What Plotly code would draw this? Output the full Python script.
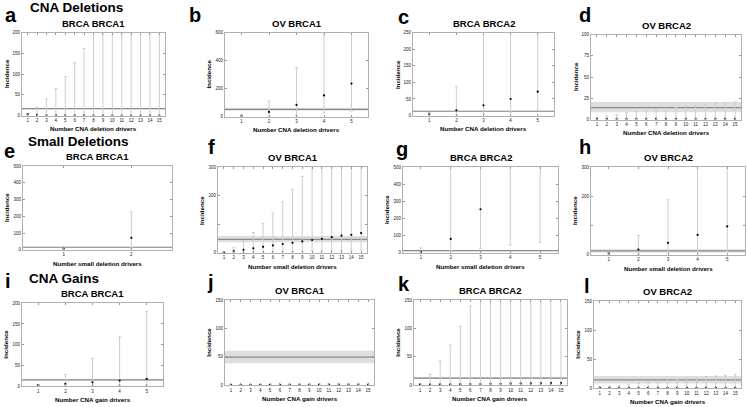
import plotly.graph_objects as go

W, H = 747, 407

# ---------------- data ----------------
x15 = list(range(1, 16))
x5 = [1, 2, 3, 4, 5]
x2 = [1, 2]

# a  CNA deletions, BRCA BRCA1
a_pt = [3, 1.5, 0.8, 0.5, 0.4, 0.3, 0.3, 0.2, 0.2, 0.2, 0.2, 0.1, 0.1, 0.1, 0.1]
a_lo = [0] * 15
a_hi = [5, 20, 40, 65, 94, 127, 162, 205, 250, 300, 350, 400, 450, 500, 560]
a_ref = [17, 15.5, 18.5]
# b  CNA deletions, OV BRCA1
b_pt = [5, 33, 83, 151, 236]
b_lo = [0, 3, 10, 25, 40]
b_hi = [12, 111, 350, 800, 1200]
b_ref = [52, 42, 62]
# c  CNA deletions, BRCA BRCA2
c_pt = [4, 16, 31, 50, 72]
c_lo = [0, 2, 5, 10, 15]
c_hi = [9, 87, 300, 400, 500]
c_ref = [13, 11.5, 14.5]
# d  CNA deletions, OV BRCA2
d_pt = [0.8] * 15
d_lo = [0] * 15
d_hi = [2, 4.3, 5.8, 7.8, 9.3, 10.5, 11.7, 13.2, 14.4, 16, 16.7, 17.9, 19, 19.8, 20.6]
d_ref = [14, 8.5, 20.5]
# e  small deletions, BRCA BRCA1
e_pt = [8, 72]
e_lo = [2, 10]
e_hi = [13, 227]
e_ref = [16, 13, 19]
# f  small deletions, OV BRCA1
f_pt = [1, 6, 11, 16, 21, 26, 31, 35, 40, 45, 49, 55, 60, 63, 69]
f_lo = [0, 1, 2, 3, 4, 5, 5, 6, 6, 7, 7, 7, 8, 8, 10]
f_hi = [3, 18, 41, 71, 102, 139, 178, 222, 267, 320, 360, 400, 440, 480, 520]
f_ref = [47, 37, 59]
# g  small deletions, BRCA BRCA2
g_pt = [6, 81, 254, 700, 900]
g_lo = [0, 13, 27, 46, 62]
g_hi = [29, 800, 1000, 1200, 1400]
g_ref = [13, 10, 16]
# h  small deletions, OV BRCA2
h_pt = [4.5, 18, 41, 68, 97]
h_lo = [0, 2, 7, 9, 11]
h_hi = [8, 66, 188, 400, 500]
h_ref = [13.5, 8, 19]
# i  CNA gains, BRCA BRCA1
i_pt = [2.4, 5.5, 9.5, 13.5, 17.5]
i_lo = [0, 0.5, 1, 2, 3]
i_hi = [4, 28, 67, 119, 180]
i_ref = [15.5, 13.5, 17.5]
# j  CNA gains, OV BRCA1
j_pt = [0.5] * 15
j_lo = [0] * 15
j_hi = [0.8, 1, 1.2, 1.4, 1.6, 1.8, 2, 2.2, 2.4, 2.6, 2.8, 3, 3.2, 3.4, 3.6]
j_ref = [49.5, 39, 61]
# k  CNA gains, BRCA BRCA2
k_pt = [1, 1.2, 1.4, 1.6, 1.8, 2, 2.2, 2.4, 2.6, 2.8, 3, 3.2, 3.4, 3.6, 3.8]
k_lo = [0] * 15
k_hi = [3, 19, 43, 71, 104, 140, 180, 220, 260, 300, 340, 380, 420, 460, 500]
k_ref = [12.7, 11, 14.5]
# l  CNA gains, OV BRCA2
l_pt = [0.8] * 15
l_lo = [0] * 15
l_hi = [2, 3.4, 5, 7, 8.6, 10.3, 12, 13.7, 15.5, 17, 18.3, 20, 21, 22.3, 23.5]
l_ref = [14.3, 8, 21]

titles = ["BRCA BRCA1", "OV BRCA1", "BRCA BRCA2", "OV BRCA2"] * 3
xlabels = (["Number CNA deletion drivers"] * 4 + ["Number small deletion drivers"] * 4
           + ["Number CNA gain drivers"] * 4)
letters = list("abcdefghijkl")
sections = ["CNA Deletions", "Small Deletions", "CNA Gains"]

yt200 = [0, 50, 100, 150, 200]
yt600 = [0, 200, 400, 600]
yt250 = [0, 50, 100, 150, 200, 250]
yt100 = [0, 25, 50, 75, 100]
yt500 = [0, 100, 200, 300, 400, 500]
yt300 = [0, 100, 200, 300]
yt300_txt = ["0", "", "200", "300"]
yt150 = [0, 50, 100, 150]

# ---------------- layout helpers ----------------
FONT = "Liberation Sans, Arial, Helvetica, sans-serif"

panels = [
    dict(x=x15, pt=a_pt, lo=a_lo, hi=a_hi, ref=a_ref, yt=yt200, box=(22, 165, 31, 115)),
    dict(x=x5, pt=b_pt, lo=b_lo, hi=b_hi, ref=b_ref, yt=yt600, box=(225, 368, 31, 116)),
    dict(x=x5, pt=c_pt, lo=c_lo, hi=c_hi, ref=c_ref, yt=yt250, box=(413, 554, 31, 115)),
    dict(x=x15, pt=d_pt, lo=d_lo, hi=d_hi, ref=d_ref, yt=yt100, box=(591, 741, 33, 119)),
    dict(x=x2, pt=e_pt, lo=e_lo, hi=e_hi, ref=e_ref, yt=yt500, box=(23, 172, 166, 251)),
    dict(x=x15, pt=f_pt, lo=f_lo, hi=f_hi, ref=f_ref, yt=yt300, ytt=yt300_txt, box=(218, 367, 167, 254)),
    dict(x=x5, pt=g_pt, lo=g_lo, hi=g_hi, ref=g_ref, yt=yt500, box=(403, 558, 167, 254)),
    dict(x=x5, pt=h_pt, lo=h_lo, hi=h_hi, ref=h_ref, yt=yt300, ytt=yt300_txt, box=(591, 745, 167, 256)),
    dict(x=x5, pt=i_pt, lo=i_lo, hi=i_hi, ref=i_ref, yt=yt200, box=(22, 163, 305, 389)),
    dict(x=x15, pt=j_pt, lo=j_lo, hi=j_hi, ref=j_ref, yt=yt150, box=(225, 374, 302, 388)),
    dict(x=x15, pt=k_pt, lo=k_lo, hi=k_hi, ref=k_ref, yt=yt150, box=(414, 567, 302, 388)),
    dict(x=x15, pt=l_pt, lo=l_lo, hi=l_hi, ref=l_ref, yt=yt150, box=(594, 741, 303, 391)),
]

letter_pos = [(3, 0), (187, 0), (396, 2), (577, 0),
              (2, 138), (206, 134), (394, 136), (577, 134),
              (3, 269), (205, 270), (396, 272), (582, 274)]
section_pos = [(28, -4), (26, 132), (27, 270)]

fig = go.Figure()
shapes = []
annotations = []
layout_axes = {}

def px(x):
    return x / W

def py(y):
    return 1 - y / H

for n, p in enumerate(panels, start=1):
    xs = "x" if n == 1 else f"x{n}"
    ys = "y" if n == 1 else f"y{n}"
    xk = "xaxis" if n == 1 else f"xaxis{n}"
    yk = "yaxis" if n == 1 else f"yaxis{n}"
    l, r, t, b = p["box"]
    fig.add_trace(go.Scatter(
        x=p["x"], y=p["pt"], mode="markers",
        marker=dict(color="black", size=2.2, line=dict(width=0)),
        error_y=dict(type="data", symmetric=False,
                     array=[h - v for h, v in zip(p["hi"], p["pt"])],
                     arrayminus=[v - lo for v, lo in zip(p["pt"], p["lo"])],
                     color="#cdcdcd", thickness=1, width=1.5),
        xaxis=xs, yaxis=ys, showlegend=False, hoverinfo="x+y"))
    ref, rlo, rhi = p["ref"]
    shapes.append(dict(type="rect", xref=f"{xs} domain", yref=ys, x0=0, x1=1, y0=rlo, y1=rhi,
                       fillcolor="#dedede", line=dict(width=0), layer="below"))
    shapes.append(dict(type="line", xref=f"{xs} domain", yref=ys, x0=0, x1=1, y0=ref, y1=ref,
                       line=dict(color="#8a8a8a", width=1.2), layer="below"))
    nmax = max(p["x"])
    axis_common = dict(showline=True, linecolor="#b0b0b0", linewidth=1, mirror="ticks",
                       ticks="inside", ticklen=2, tickwidth=0.8, tickcolor="#999999",
                       showgrid=False, zeroline=False,
                       tickfont=dict(size=4.5, color="#222222", family=FONT))
    layout_axes[xk] = dict(domain=[px(l), px(r)], range=[0.4, nmax + 0.6], anchor=ys,
                           tickvals=p["x"], ticktext=[str(v) for v in p["x"]], **axis_common)
    layout_axes[yk] = dict(domain=[py(b), py(t)], range=[0, max(p["yt"])], anchor=xs,
                           tickvals=p["yt"], ticktext=p.get("ytt", [str(v) for v in p["yt"]]),
                           **axis_common)
    # subplot title
    annotations.append(dict(text=f"<b>{titles[n-1]}</b>", x=px((l + r) / 2), y=py(t - 2),
                            xref="paper", yref="paper", xanchor="center", yanchor="bottom",
                            showarrow=False, font=dict(size=9.5, family=FONT, color="black")))
    # x-axis title
    annotations.append(dict(text=f"<b>{xlabels[n-1]}</b>", x=px((l + r) / 2), y=py(b + 8),
                            xref="paper", yref="paper", xanchor="center", yanchor="top",
                            showarrow=False, font=dict(size=6.2, family=FONT, color="black")))
    # y-axis title
    annotations.append(dict(text="<b>Incidence</b>", x=px(l - 16), y=py((t + b) / 2),
                            xref="paper", yref="paper", xanchor="center", yanchor="middle",
                            textangle=-90, showarrow=False,
                            font=dict(size=6.2, family=FONT, color="black")))
    # panel letter
    lx, ly = letter_pos[n - 1]
    annotations.append(dict(text=f"<b>{letters[n-1]}</b>", x=px(lx), y=py(ly),
                            xref="paper", yref="paper", xanchor="left", yanchor="top",
                            showarrow=False, font=dict(size=20, family=FONT, color="black")))

for s, (sx, sy) in zip(sections, section_pos):
    annotations.append(dict(text=f"<b>{s}</b>", x=px(sx), y=py(sy),
                            xref="paper", yref="paper", xanchor="left", yanchor="top",
                            showarrow=False, font=dict(size=13.5, family=FONT, color="black")))

fig.update_layout(width=W, height=H, margin=dict(l=0, r=0, t=0, b=0),
                  paper_bgcolor="white", plot_bgcolor="white",
                  shapes=shapes, annotations=annotations, **layout_axes)

fig.write_html("out.html")
